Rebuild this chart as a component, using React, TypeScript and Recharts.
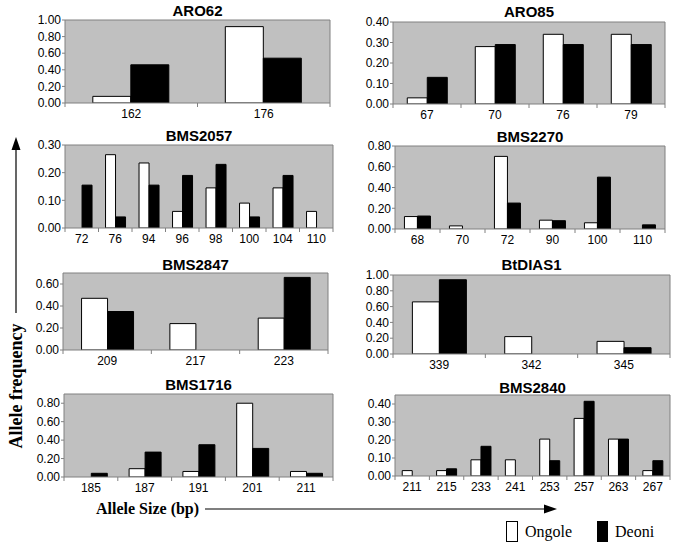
import React from "react";
import { BarChart, Bar, XAxis, YAxis, CartesianGrid } from "recharts";

// ---------- DATA ----------
const seriesNames = ["Ongole", "Deoni"];

const aro62Alleles = ["162", "176"];
const aro62Ongole = [0.08, 0.92];
const aro62Deoni = [0.46, 0.54];
const aro62Ticks = [0, 0.2, 0.4, 0.6, 0.8, 1.0];

const aro85Alleles = ["67", "70", "76", "79"];
const aro85Ongole = [0.03, 0.28, 0.34, 0.34];
const aro85Deoni = [0.13, 0.29, 0.29, 0.29];
const aro85Ticks = [0, 0.1, 0.2, 0.3, 0.4];

const bms2057Alleles = ["72", "76", "94", "96", "98", "100", "104", "110"];
const bms2057Ongole = [0, 0.265, 0.235, 0.06, 0.145, 0.09, 0.145, 0.06];
const bms2057Deoni = [0.155, 0.04, 0.155, 0.19, 0.23, 0.04, 0.19, 0];
const bms2057Ticks = [0, 0.1, 0.2, 0.3];

const bms2270Alleles = ["68", "70", "72", "90", "100", "110"];
const bms2270Ongole = [0.12, 0.03, 0.7, 0.085, 0.06, 0];
const bms2270Deoni = [0.125, 0, 0.25, 0.08, 0.5, 0.04];
const bms2270Ticks = [0, 0.2, 0.4, 0.6, 0.8];

const bms2847Alleles = ["209", "217", "223"];
const bms2847Ongole = [0.47, 0.24, 0.29];
const bms2847Deoni = [0.35, 0, 0.66];
const bms2847Ticks = [0, 0.2, 0.4, 0.6];

const btdias1Alleles = ["339", "342", "345"];
const btdias1Ongole = [0.66, 0.22, 0.16];
const btdias1Deoni = [0.94, 0, 0.08];
const btdias1Ticks = [0, 0.2, 0.4, 0.6, 0.8, 1.0];

const bms1716Alleles = ["185", "187", "191", "201", "211"];
const bms1716Ongole = [0, 0.09, 0.06, 0.8, 0.06];
const bms1716Deoni = [0.04, 0.27, 0.35, 0.31, 0.04];
const bms1716Ticks = [0, 0.2, 0.4, 0.6, 0.8];

const bms2840Alleles = ["211", "215", "233", "241", "253", "257", "263", "267"];
const bms2840Ongole = [0.03, 0.03, 0.09, 0.09, 0.205, 0.32, 0.205, 0.03];
const bms2840Deoni = [0, 0.04, 0.165, 0, 0.085, 0.415, 0.205, 0.085];
const bms2840Ticks = [0, 0.1, 0.2, 0.3, 0.4];

// ---------- LAYOUT ----------
const SANS = "'Liberation Sans', Arial, sans-serif";
const SERIF = "'Liberation Serif', 'Times New Roman', serif";
const AXIS = "#808080";
const YW = 60;
const MT = 10;
const XH = 22;
const TS = 4;
const TM = 2;

const panels = [
  { title: "ARO62", alleles: aro62Alleles, o: aro62Ongole, d: aro62Deoni, ticks: aro62Ticks, yMax: 1.0, box: [65, 20, 330, 103], tc: 11 },
  { title: "ARO85", alleles: aro85Alleles, o: aro85Ongole, d: aro85Deoni, ticks: aro85Ticks, yMax: 0.4, box: [393, 22, 665, 104], tc: 12 },
  { title: "BMS2057", alleles: bms2057Alleles, o: bms2057Ongole, d: bms2057Deoni, ticks: bms2057Ticks, yMax: 0.3, box: [65, 145, 333, 228], tc: 136 },
  { title: "BMS2270", alleles: bms2270Alleles, o: bms2270Ongole, d: bms2270Deoni, ticks: bms2270Ticks, yMax: 0.8, box: [395, 146, 665, 229], tc: 137 },
  { title: "BMS2847", alleles: bms2847Alleles, o: bms2847Ongole, d: bms2847Deoni, ticks: bms2847Ticks, yMax: 0.7, box: [63, 273, 328, 350], tc: 265 },
  { title: "BtDIAS1", alleles: btdias1Alleles, o: btdias1Ongole, d: btdias1Deoni, ticks: btdias1Ticks, yMax: 1.0, box: [393, 275, 670, 354], tc: 265 },
  { title: "BMS1716", alleles: bms1716Alleles, o: bms1716Ongole, d: bms1716Deoni, ticks: bms1716Ticks, yMax: 0.9, box: [64, 394, 333, 477], tc: 385 },
  { title: "BMS2840", alleles: bms2840Alleles, o: bms2840Ongole, d: bms2840Deoni, ticks: bms2840Ticks, yMax: 0.45, box: [395, 395, 670, 476], tc: 388 },
];

const XTick = (props: any) => {
  const { x, y, payload, band, index, count } = props;
  const y1 = y - TM - TS;
  const y2 = y - TM;
  return (
    <g>
      <line x1={x - band / 2} x2={x - band / 2} y1={y1} y2={y2} stroke={AXIS} />
      {index === count - 1 && (
        <line x1={x + band / 2} x2={x + band / 2} y1={y1} y2={y2} stroke={AXIS} />
      )}
      <text x={x} y={y} dy="0.78em" textAnchor="middle" fontSize={12} fontFamily={SANS} fill="#000">
        {payload.value}
      </text>
    </g>
  );
};

function Panel({ p }: { p: any }) {
  const [l, t, r, b] = p.box;
  const pw = r - l;
  const ph = b - t;
  const data = p.alleles.map((a: string, i: number) => ({
    allele: a,
    [seriesNames[0]]: p.o[i],
    [seriesNames[1]]: p.d[i],
  }));
  const band = pw / p.alleles.length;
  return (
    <>
      <div
        style={{
          position: "absolute",
          left: l,
          top: p.tc - 9,
          width: pw,
          textAlign: "center",
          fontFamily: SANS,
          fontWeight: "bold",
          fontSize: 15,
          lineHeight: "18px",
          color: "#000",
        }}
      >
        {p.title}
      </div>
      <div style={{ position: "absolute", left: l - YW, top: t - MT }}>
        <BarChart
          width={pw + YW + 4}
          height={ph + MT + XH}
          data={data}
          margin={{ top: MT, right: 4, bottom: 0, left: 0 }}
          barCategoryGap="21%"
          barGap={0}
        >
          <CartesianGrid
            fill="#c0c0c0"
            stroke={AXIS}
            strokeWidth={1}
            horizontalCoordinatesGenerator={({ offset }: any) => [offset.top]}
            verticalCoordinatesGenerator={({ offset }: any) => [offset.left + offset.width]}
          />
          <XAxis
            dataKey="allele"
            height={XH}
            axisLine={{ stroke: AXIS }}
            tickLine={false}
            tickSize={TS}
            tickMargin={TM}
            interval={0}
            tick={<XTick band={band} count={p.alleles.length} />}
          />
          <YAxis
            width={YW}
            domain={[0, p.yMax]}
            ticks={p.ticks}
            interval={0}
            allowDataOverflow
            axisLine={{ stroke: AXIS }}
            tickLine={{ stroke: AXIS }}
            tickSize={3}
            tickMargin={1}
            tickFormatter={(v: number) => v.toFixed(2)}
            tick={{ fontSize: 12, fontFamily: SANS, fill: "#000" }}
          />
          <Bar dataKey={seriesNames[0]} fill="#ffffff" stroke="#000" strokeWidth={1} isAnimationActive={false} />
          <Bar dataKey={seriesNames[1]} fill="#000000" stroke="#000" strokeWidth={1} isAnimationActive={false} />
        </BarChart>
      </div>
    </>
  );
}

export default function App() {
  return (
    <div style={{ position: "absolute", left: 0, top: 0, width: 685, height: 548, background: "#fff", overflow: "hidden" }}>
      {panels.map((p) => (
        <Panel key={p.title} p={p} />
      ))}
      <svg width={685} height={548} style={{ position: "absolute", left: 0, top: 0, pointerEvents: "none" }}>
        {/* y arrow */}
        <line x1={16} y1={313} x2={16} y2={148} stroke="#000" strokeWidth={1.2} />
        <polygon points="16,137 11.5,150 20.5,150" fill="#000" />
        <text
          x={0}
          y={0}
          transform="translate(22,386) rotate(-90)"
          textAnchor="middle"
          fontFamily={SERIF}
          fontWeight="bold"
          fontSize={18}
          fill="#000"
        >
          Allele frequency
        </text>
        {/* x arrow */}
        <text x={96} y={514} fontFamily={SERIF} fontWeight="bold" fontSize={16} fill="#000">
          Allele Size (bp)
        </text>
        <line x1={205} y1={509} x2={545} y2={509} stroke="#000" strokeWidth={1.2} />
        <polygon points="557,509 544,504.5 544,513.5" fill="#000" />
        {/* legend */}
        <rect x={506.5} y={521.5} width={11} height={20} fill="#fff" stroke="#000" strokeWidth={1} />
        <text x={525} y={537} fontFamily={SERIF} fontSize={16} fill="#000">
          {seriesNames[0]}
        </text>
        <rect x={597} y={521} width={11} height={21} fill="#000" />
        <text x={615} y={537} fontFamily={SERIF} fontSize={16} fill="#000">
          {seriesNames[1]}
        </text>
      </svg>
    </div>
  );
}
